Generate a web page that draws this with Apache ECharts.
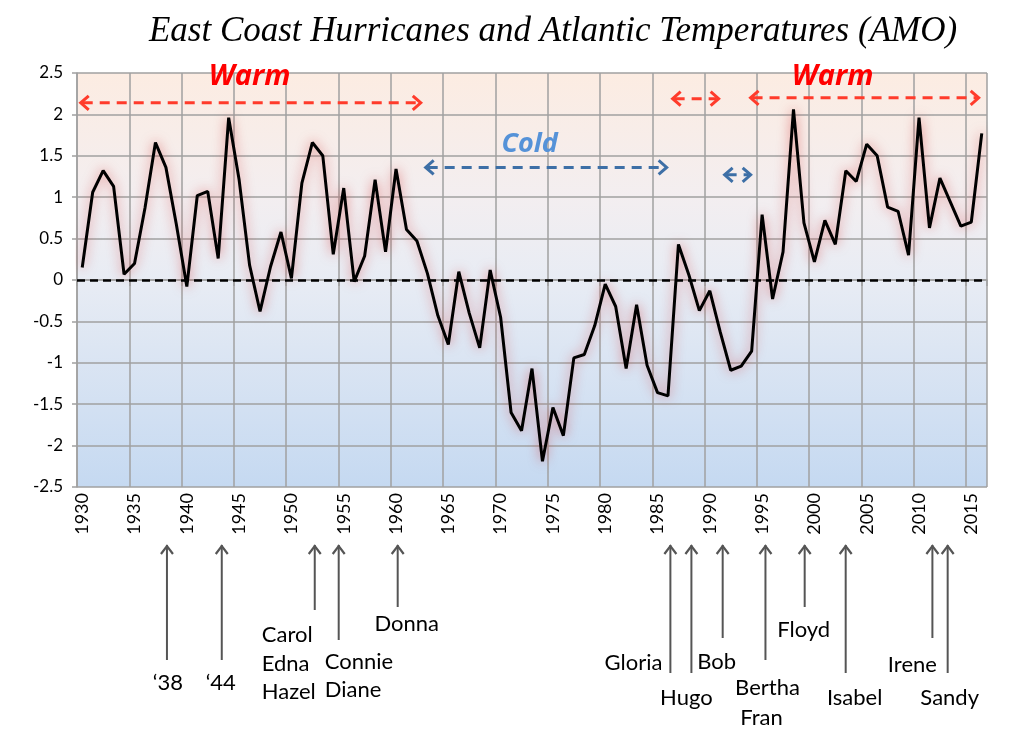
<!DOCTYPE html>
<html><head><meta charset="utf-8">
<script src="https://cdn.jsdelivr.net/npm/echarts@6/dist/echarts.min.js"></script>
<style>html,body{margin:0;padding:0;background:#fff}#c{width:1024px;height:741px}</style>
</head><body><div id="c"></div>
<script>
// ---- data ----
const years = ['1930','1931','1932','1933','1934','1935','1936','1937','1938','1939',
'1940','1941','1942','1943','1944','1945','1946','1947','1948','1949',
'1950','1951','1952','1953','1954','1955','1956','1957','1958','1959',
'1960','1961','1962','1963','1964','1965','1966','1967','1968','1969',
'1970','1971','1972','1973','1974','1975','1976','1977','1978','1979',
'1980','1981','1982','1983','1984','1985','1986','1987','1988','1989',
'1990','1991','1992','1993','1994','1995','1996','1997','1998','1999',
'2000','2001','2002','2003','2004','2005','2006','2007','2008','2009',
'2010','2011','2012','2013','2014','2015','2016'];
const amo = [0.15,1.06,1.32,1.13,0.07,0.2,0.87,1.66,1.36,0.67,
-0.08,1.02,1.07,0.26,1.96,1.21,0.18,-0.38,0.16,0.58,
0.02,1.17,1.66,1.5,0.31,1.11,-0.02,0.29,1.21,0.34,
1.34,0.61,0.47,0.08,-0.43,-0.78,0.1,-0.4,-0.82,0.12,
-0.45,-1.6,-1.82,-1.07,-2.19,-1.54,-1.88,-0.94,-0.9,-0.55,
-0.05,-0.32,-1.07,-0.3,-1.03,-1.36,-1.4,0.43,0.06,-0.37,
-0.13,-0.63,-1.09,-1.04,-0.86,0.79,-0.23,0.34,2.06,0.69,
0.22,0.72,0.43,1.32,1.19,1.64,1.5,0.88,0.83,0.3,
1.96,0.63,1.23,0.94,0.65,0.7,1.77];
const yTicks = {min:-2.5, max:2.5, interval:0.5};
const titleText = 'East Coast Hurricanes and Atlantic Temperatures (AMO)';
// hurricane names (label lines) and years
const hurricaneNames = [["‘38"],["‘44"],["Carol","Edna","Hazel"],["Connie","Diane"],["Donna"],
  ["Gloria"],["Hugo"],["Bob"],["Bertha","Fran"],["Floyd"],["Isabel"],["Irene"],["Sandy"]];
const hurricaneYears = [1938,1944,1954,1955,1960,1985,1989,1991,1996,1999,2003,2011,2012];
// regime periods
const regimes = [
  {kind:'warm', from:1929.76, to:1962.46, level:2.14},
  {kind:'cold', from:1962.74, to:1985.97, level:1.36},
  {kind:'warm', from:1986.35, to:1990.94, level:2.19},
  {kind:'cold', from:1991.32, to:1994.0, level:1.27},
  {kind:'warm', from:1993.8, to:2015.8, level:2.2}
];
const regimeLabels = [
  {text:'Warm', kind:'warm', at:1946.0, level:2.45},
  {text:'Cold', kind:'cold', at:1972.78, level:1.64},
  {text:'Warm', kind:'warm', at:2001.74, level:2.46}
];

// ---- layout for annotation arrows (positions along axis, pixel offsets below the axis) ----
const arrowLayout = [
  {at:1938.1, bottom:173, dx:1,  align:'center', ly:[196]},
  {at:1943.34,bottom:173, dx:-1, align:'center', ly:[196]},
  {at:1952.23,bottom:123, dx:-53,align:'left',   ly:[148,177,205]},
  {at:1954.52,bottom:153, dx:-14,align:'left',   ly:[175,203]},
  {at:1960.16,bottom:120, dx:9,  align:'center', ly:[137]},
  {at:1986.23,bottom:186, dx:-8, align:'right',  ly:[176]},
  {at:1988.24,bottom:186, dx:-5, align:'center', ly:[211]},
  {at:1991.23,bottom:151, dx:-6, align:'center', ly:[175]},
  {at:1995.32,bottom:173, dx:2,  align:'center', ly:[201,231], dx2:-4},
  {at:1999.07,bottom:120, dx:-1, align:'center', ly:[143]},
  {at:2002.99,bottom:186, dx:9,  align:'center', ly:[211]},
  {at:2011.28,bottom:151, dx:-20,align:'center', ly:[178]},
  {at:2012.74,bottom:186, dx:2,  align:'center', ly:[211]}
];

const chart = echarts.init(document.getElementById('c'), null, {renderer:'canvas'});
const option = {
  animation:false,
  backgroundColor:'#ffffff',
  title:{text:titleText, left:548, top:9, textAlign:'center',
    textStyle:{fontFamily:'Liberation Serif', fontStyle:'italic', fontWeight:'normal', fontSize:35, color:'#000'}},
  grid:{left:77, right:37, top:73, bottom:254, containLabel:false, outerBoundsMode:'none',
    show:true, borderWidth:0,
    backgroundColor:{type:'linear', x:0, y:0, x2:0, y2:1, colorStops:[
      {offset:0, color:'#fcece2'},{offset:0.3, color:'#f3eef0'},{offset:0.5, color:'#e8ecf4'},{offset:1, color:'#c5d9f1'}]}},
  xAxis:{type:'category', data:years, boundaryGap:true,
    axisLine:{show:true, lineStyle:{color:'#a0a0a0', width:1.5}},
    axisTick:{show:true, interval:4, length:6, lineStyle:{color:'#a0a0a0', width:1.5}},
    axisLabel:{interval:4, rotate:90, margin:6, fontFamily:'Lato', fontSize:18, color:'#000'},
    splitLine:{show:true, interval:4, lineStyle:{color:'#a0a0a0', width:1.5}}},
  yAxis:{type:'value', min:yTicks.min, max:yTicks.max, interval:yTicks.interval,
    axisLine:{show:true, lineStyle:{color:'#a0a0a0', width:1.5}},
    axisTick:{show:true, length:5, lineStyle:{color:'#a0a0a0', width:1.5}},
    axisLabel:{margin:14, fontFamily:'Lato', fontSize:17, color:'#000'},
    splitLine:{show:true, lineStyle:{color:'#a0a0a0', width:1.5}}},
  series:[{type:'line', data:amo, symbol:'none', smooth:false,
    lineStyle:{color:'#000', width:3, shadowColor:'rgba(210,50,50,0.6)', shadowBlur:12},
    markLine:{silent:true, symbol:'none', label:{show:false},
      lineStyle:{color:'#000', type:[8,5], width:2.5},
      data:[{yAxis:0}]}}]
};
chart.setOption(option);

function yearPx(y){
  const i = Math.floor(y - 1930), f = (y - 1930) - i;
  const p0 = chart.convertToPixel({xAxisIndex:0}, i);
  const p1 = chart.convertToPixel({xAxisIndex:0}, i + 1);
  return p0 + f * (p1 - p0);
}
function valPx(v){ return chart.convertToPixel({yAxisIndex:0}, v); }

const g = [];
const axisBottom = valPx(yTicks.min);
const arrowColor = '#555555';
arrowLayout.forEach((a, k) => {
  const x = yearPx(a.at), top = axisBottom + 58, bot = axisBottom + a.bottom;
  g.push({type:'line', shape:{x1:x, y1:top, x2:x, y2:bot}, style:{stroke:arrowColor, lineWidth:2}});
  g.push({type:'polyline', shape:{points:[[x-6,top+9],[x,top+1],[x+6,top+9]]}, style:{stroke:arrowColor, lineWidth:2.2, fill:null}});
  hurricaneNames[k].forEach((t, j) => {
    const dx = (j === 1 && a.dx2 !== undefined) ? a.dx2 : a.dx;
    g.push({type:'text', x:x + dx, y:axisBottom + a.ly[j],
      style:{text:t, fontFamily:'Lato', fontSize:22, fill:'#000', align:a.align, verticalAlign:'middle'}});
  });
});
const regimeColor = {warm:'#ff3b2b', cold:'#3d6fa6'};
const regimeText = {warm:'#ff0000', cold:'#5592d8'};
regimes.forEach(r => {
  const x0 = yearPx(r.from), x1 = yearPx(r.to), y = valPx(r.level), c = regimeColor[r.kind];
  g.push({type:'line', shape:{x1:x0+3, y1:y, x2:x1-3, y2:y}, style:{stroke:c, lineWidth:3, lineDash:[10,7]}});
  g.push({type:'polyline', shape:{points:[[x0+9,y-7],[x0+1,y],[x0+9,y+7]]}, style:{stroke:c, lineWidth:3, fill:null}});
  g.push({type:'polyline', shape:{points:[[x1-9,y-7],[x1-1,y],[x1-9,y+7]]}, style:{stroke:c, lineWidth:3, fill:null}});
});
regimeLabels.forEach(l => {
  g.push({type:'text', x:yearPx(l.at), y:valPx(l.level),
    style:{text:l.text, fontFamily:'Open Sans', fontStyle:'italic', fontWeight:'bold',
      fontSize:l.kind === 'warm' ? 29 : 27, fill:regimeText[l.kind], align:'center', verticalAlign:'middle'}});
});
chart.setOption({graphic:{elements:g}});
</script>
</body></html>
